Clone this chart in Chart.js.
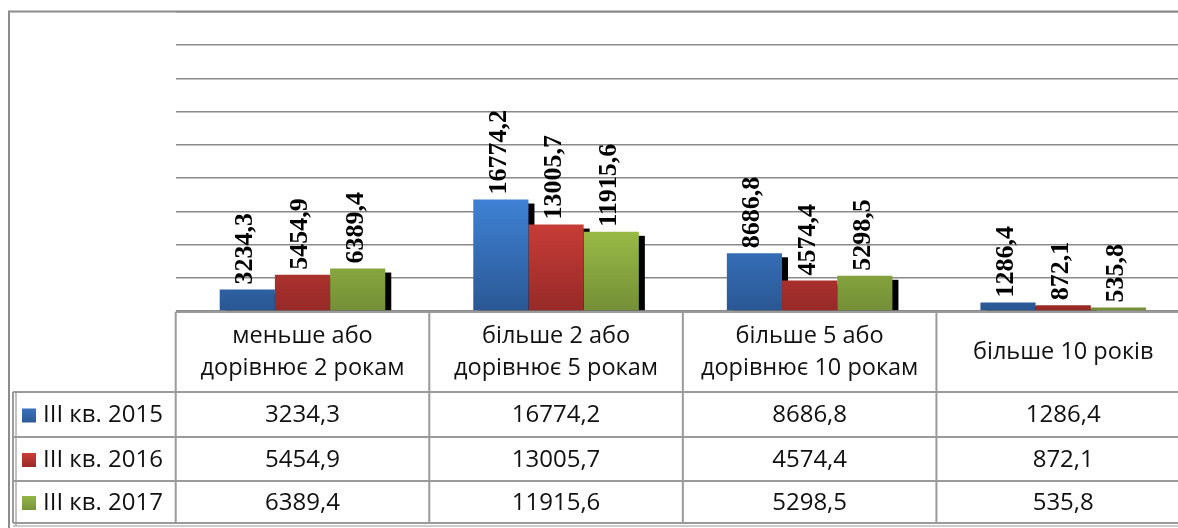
<!DOCTYPE html>
<html><head><meta charset="utf-8">
<script src="https://cdn.jsdelivr.net/npm/chart.js@4/dist/chart.umd.min.js"></script>
<style>
html,body{margin:0;padding:0;background:#fff;overflow:hidden;width:1178px;height:528px}
#wrap{position:absolute;left:0;top:0;width:1200px;height:528px}
</style></head><body>
<div id="wrap"><canvas id="c" width="1200" height="528"></canvas></div>
<script>
// ---- data ----
const categories = [['меньше або','дорівнює 2 рокам'],['більше 2 або','дорівнює 5 рокам'],['більше 5 або','дорівнює 10 рокам'],['більше 10 років']];
const seriesNames = ['III кв. 2015','III кв. 2016','III кв. 2017'];
const q3_2015 = [3234.3, 16774.2, 8686.8, 1286.4];
const q3_2016 = [5454.9, 13005.7, 4574.4, 872.1];
const q3_2017 = [6389.4, 11915.6, 5298.5, 535.8];
const yTicks = [0, 5000, 10000, 15000, 20000, 25000, 30000, 35000, 40000, 45000];

// ---- styles ----
const gradStops = [['#3f82d6','#2a5793'],['#d6413b','#962a28'],['#a8cc4c','#748f37']];
const legendColors = [['#3a72bd','#2c5a96'],['#cc3d36','#9a2b29'],['#92b545','#76953a']];
const fmt = v => v.toFixed(1).replace('.', ',');

function gradFor(i){
  return (ctx) => {
    const ch = ctx.chart;
    if(!ch.chartArea) return gradStops[i][1];
    const y = ch.scales.y;
    const g = ch.ctx.createLinearGradient(0, y.getPixelForValue(17000), 0, y.getPixelForValue(0));
    g.addColorStop(0, gradStops[i][0]);
    g.addColorStop(1, gradStops[i][1]);
    return g;
  };
}

const frame = {
  id:'frame',
  beforeDraw(chart){
    const c = chart.ctx;
    c.save();
    c.strokeStyle = '#8c8c8c'; c.lineWidth = 2;
    c.beginPath(); c.moveTo(9, 528); c.lineTo(9, 11.5); c.lineTo(1200, 11.5); c.stroke();
    c.restore();
  }
};

const shadows = {
  id:'shadows',
  beforeDatasetsDraw(chart){
    const c = chart.ctx, a = chart.chartArea;
    c.save();
    c.beginPath(); c.rect(a.left, a.top, a.right - a.left, a.bottom - a.top); c.clip();
    c.fillStyle = '#000';
    chart.data.datasets.forEach((ds, di) => {
      chart.getDatasetMeta(di).data.forEach(bar => {
        const w = bar.width, l = bar.x - w/2;
        const top = bar.y + 4, bot = bar.base;
        if (bot > top) c.fillRect(l + 6, top, w, bot - top);
      });
    });
    c.restore();
  }
};

const labels = {
  id:'labels',
  afterDatasetsDraw(chart){
    const c = chart.ctx;
    c.save();
    c.fillStyle = '#000';
    c.font = "bold 26px 'Liberation Serif'";
    c.textAlign = 'left'; c.textBaseline = 'alphabetic';
    chart.data.datasets.forEach((ds, di) => {
      chart.getDatasetMeta(di).data.forEach((bar, i) => {
        c.save();
        c.translate(bar.x + 5, bar.y - 5);
        c.rotate(-Math.PI/2);
        c.fillText(fmt(ds.data[i]), 0, 0);
        c.restore();
      });
    });
    c.restore();
  }
};

const table = {
  id:'table',
  afterDraw(chart){
    const c = chart.ctx, a = chart.chartArea, x = chart.scales.x;
    const n = categories.length, cw = (a.right - a.left) / n;
    const cols = []; for (let i = 0; i <= n; i++) cols.push(a.left + i*cw);
    const hTop = a.bottom + 1, hBot = 392;
    const rows = [392, 437, 481, 523];
    c.save();
    c.strokeStyle = '#9a9a9a'; c.lineWidth = 2;
    c.beginPath();
    c.moveTo(a.left, hTop); c.lineTo(1200, hTop);
    rows.forEach(r => { c.moveTo(13, r); c.lineTo(1200, r); });
    cols.forEach(cx => { c.moveTo(cx, hTop); c.lineTo(cx, rows[3]); });
    c.moveTo(13, hBot); c.lineTo(13, rows[3]);
    c.stroke();
    c.lineWidth = 1.2;
    c.beginPath();
    c.moveTo(16, hBot); c.lineTo(16, 526); c.moveTo(13, 526); c.lineTo(1200, 526);
    c.stroke();
    // header text
    c.fillStyle = '#111';
    c.font = "23.5px 'Open Sans'";
    c.textAlign = 'center'; c.textBaseline = 'middle';
    categories.forEach((lines, i) => {
      const cx = x.getPixelForValue(i);
      const mid = (hTop + hBot)/2;
      if (lines.length === 1) c.fillText(lines[0], cx, mid);
      else { c.fillText(lines[0], cx, mid - 16); c.fillText(lines[1], cx, mid + 16); }
    });
    const series = [q3_2015, q3_2016, q3_2017];
    c.font = "24px 'Open Sans'";
    series.forEach((vals, si) => {
      const cy = (rows[si] + rows[si+1])/2 + 1;
      const g = c.createLinearGradient(0, cy - 7, 0, cy + 7);
      g.addColorStop(0, legendColors[si][0]); g.addColorStop(1, legendColors[si][1]);
      c.fillStyle = g;
      c.fillRect(22, cy - 7, 14, 14);
      c.fillStyle = '#111';
      c.textAlign = 'left';
      c.fillText(seriesNames[si], 43, cy);
      c.textAlign = 'center';
      vals.forEach((v, i) => c.fillText(fmt(v), x.getPixelForValue(i), cy));
    });
    c.restore();
  }
};

new Chart(document.getElementById('c'), {
  type: 'bar',
  data: {
    labels: categories.map(l => l.join(' ')),
    datasets: [
      {label: seriesNames[0], data: q3_2015, backgroundColor: gradFor(0)},
      {label: seriesNames[1], data: q3_2016, backgroundColor: gradFor(1)},
      {label: seriesNames[2], data: q3_2017, backgroundColor: gradFor(2)}
    ]
  },
  options: {
    responsive: false, animation: false, devicePixelRatio: 1,
    layout: {padding: {left: 175.7, top: 12, right: 10, bottom: 217}},
    datasets: {bar: {categoryPercentage: 0.653, barPercentage: 1, borderWidth: 0}},
    plugins: {legend: {display: false}, tooltip: {enabled: false}},
    scales: {
      x: {display: false},
      y: {
        min: yTicks[0], max: yTicks[yTicks.length-1],
        afterBuildTicks: s => { s.ticks = yTicks.map(v => ({value: v})); },
        ticks: {display: false},
        border: {display: false},
        grid: {color: '#8a8a8a', lineWidth: 1.6, drawTicks: false}
      }
    }
  },
  plugins: [frame, shadows, labels, table]
});
</script>
</body></html>
